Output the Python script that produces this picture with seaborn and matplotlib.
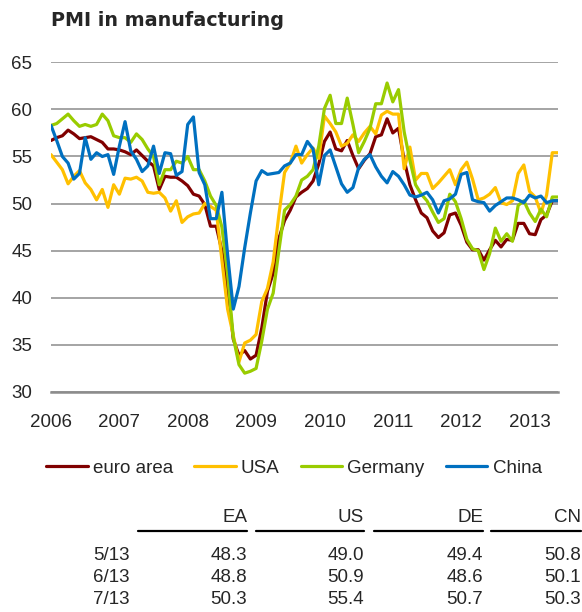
import numpy as np
import pandas as pd
import matplotlib.pyplot as plt
import seaborn as sns
from matplotlib.lines import Line2D

# monthly PMI readings, first point = 2006
euro_area = [56.7, 57.0, 57.2, 57.8, 57.4, 56.9, 57.0, 57.1, 56.8, 56.5,
             55.8, 55.8, 55.7, 55.5, 55.2, 55.7, 55.1, 54.5, 54.0, 51.5,
             52.9, 52.8, 52.8, 52.4, 51.9, 51.0, 50.8, 49.9, 47.6, 47.6,
             45.0, 41.1, 35.6, 33.9, 34.4, 33.5, 33.9, 36.8, 40.7, 42.6,
             46.3, 48.2, 49.3, 50.7, 51.2, 51.6, 52.4, 54.2, 56.6, 57.6,
             55.8, 55.6, 56.7, 55.1, 53.7, 54.6, 55.3, 57.1, 57.3, 59.0,
             57.5, 58.0, 54.6, 52.0, 50.4, 49.0, 48.5, 47.1, 46.4, 46.9,
             48.8, 49.0, 47.7, 45.9, 45.1, 45.1, 44.0, 45.1, 46.1, 45.4,
             46.2, 46.1, 47.9, 47.9, 46.8, 46.7, 48.3, 48.8, 50.3, 50.3]
usa = [55.2, 54.4, 53.6, 52.1, 52.9, 53.5, 52.2, 51.5, 50.4, 51.5,
       49.6, 52.0, 51.0, 52.7, 52.6, 52.8, 52.4, 51.2, 51.1, 51.2,
       50.6, 49.2, 50.3, 48.0, 48.6, 48.9, 49.0, 50.0, 49.7, 49.3,
       44.0, 38.8, 36.0, 33.2, 35.2, 35.5, 36.1, 39.6, 41.0, 43.8,
       48.8, 53.3, 54.3, 56.1, 54.3, 55.2, 55.9, 54.8, 59.3, 58.5,
       57.6, 56.1, 56.4, 57.3, 56.6, 57.5, 58.2, 57.4, 59.4, 59.8,
       59.5, 59.5, 53.7, 56.0, 52.5, 53.2, 53.2, 51.6, 52.2, 52.9,
       53.6, 52.0, 53.6, 54.4, 52.6, 50.4, 50.6, 51.0, 51.7, 50.1,
       49.9, 50.3, 53.2, 54.1, 51.3, 50.7, 49.0, 50.9, 55.4, 55.4]
germany = [58.3, 58.5, 59.0, 59.5, 58.8, 58.2, 58.4, 58.2, 58.4, 59.5,
           58.8, 57.2, 57.0, 57.0, 56.5, 57.4, 56.8, 55.8, 55.0, 52.0,
           53.6, 53.6, 54.5, 54.3, 55.0, 53.6, 53.6, 52.4, 50.8, 49.8,
           47.5, 42.5, 35.8, 32.9, 32.0, 32.2, 32.5, 35.4, 38.8, 40.5,
           45.0, 49.3, 49.9, 50.8, 52.5, 52.9, 53.6, 56.1, 60.1, 61.5,
           58.5, 58.5, 61.2, 58.4, 55.4, 56.6, 58.0, 60.6, 60.6, 62.8,
           60.8, 62.1, 57.6, 54.6, 52.0, 51.0, 50.3, 49.1, 48.0, 48.4,
           51.0, 50.2, 48.4, 46.2, 45.2, 45.0, 43.0, 44.7, 47.4, 46.0,
           46.8, 46.0, 49.8, 50.3, 49.0, 48.1, 49.4, 48.6, 50.7, 50.7]
china = [58.3, 56.7, 55.0, 54.3, 52.6, 53.2, 57.0, 54.7, 55.4, 55.0,
         55.2, 53.1, 56.1, 58.7, 55.6, 54.7, 53.4, 54.0, 56.1, 53.2,
         55.4, 55.3, 53.0, 53.4, 58.4, 59.2, 53.3, 52.0, 48.4, 48.4,
         51.2, 44.6, 38.8, 41.2, 45.3, 49.0, 52.4, 53.5, 53.1, 53.2,
         53.3, 54.0, 54.3, 55.2, 55.2, 56.6, 55.8, 52.0, 55.1, 55.7,
         53.9, 52.1, 51.2, 51.7, 53.8, 54.7, 55.2, 53.9, 52.9, 52.2,
         53.4, 52.9, 52.0, 50.9, 50.7, 50.9, 51.2, 50.4, 49.0, 50.3,
         50.5, 51.0, 53.1, 53.3, 50.4, 50.2, 50.1, 49.2, 49.8, 50.2,
         50.6, 50.6, 50.4, 50.1, 50.9, 50.6, 50.8, 50.1, 50.3, 50.3]

series_names = ['euro area', 'USA', 'Germany', 'China']
colors = ['#800000', '#FFC000', '#99CC00', '#0070C0']
year_labels = ['2006', '2007', '2008', '2009', '2010', '2011', '2012', '2013']

table_rows = ['5/13', '6/13', '7/13']
table_cols = ['EA', 'US', 'DE', 'CN']
table_vals = [[48.3, 49.0, 49.4, 50.8],
              [48.8, 50.9, 48.6, 50.1],
              [50.3, 55.4, 50.7, 50.3]]

months = np.arange(len(euro_area))
df = pd.concat([
    pd.DataFrame({'month': months, 'pmi': vals, 'series': name})
    for name, vals in zip(series_names, [euro_area, usa, germany, china])
])

sns.set_style('white')
plt.rcParams['font.family'] = ['Liberation Sans', 'DejaVu Sans']
FS = 13.5

W, H = 582, 612
fig = plt.figure(figsize=(W / 100, H / 100), dpi=100)
ax = fig.add_axes([51 / W, 1 - 392 / H, (558 - 51) / W, (392 - 62.3) / H])

sns.lineplot(data=df, x='month', y='pmi', hue='series', palette=colors,
             hue_order=series_names, linewidth=2.3, ax=ax, legend=False)

ax.set_xlim(0, 89)
ax.set_ylim(30, 65)
ax.set_yticks(range(30, 70, 5))
ax.set_xticks(range(0, 96, 12))
ax.set_xticklabels(year_labels)
ax.set_xlabel('')
ax.set_ylabel('')
ax.grid(axis='y', color='#8c8c8c', linewidth=1.1)
ax.set_axisbelow(True)
for side in ['left', 'right', 'top']:
    ax.spines[side].set_visible(False)
ax.spines['bottom'].set_color('#8c8c8c')
ax.spines['bottom'].set_linewidth(1.8)
ax.tick_params(axis='y', length=0, pad=13.5, labelsize=FS)
ax.tick_params(axis='x', length=5, width=1.8, color='#8c8c8c', pad=11, labelsize=FS)

fig.text(51 / W, 1 - 26 / H, 'PMI in manufacturing', fontsize=13.8,
         fontweight='bold', family='DejaVu Sans', va='baseline', ha='left')

handles = [Line2D([], [], color=c, linewidth=2.3) for c in colors]
fig.legend(handles, series_names, loc='center', bbox_to_anchor=(294 / W, 1 - 468 / H),
           ncol=4, frameon=False, fontsize=FS, handlelength=2.2,
           handletextpad=0.27, columnspacing=1.15)

# small table of latest readings
col_right = [247, 364, 483, 581]
col_left = [138, 256, 374, 491]
for name, x0, x1 in zip(table_cols, col_left, col_right):
    fig.text(x1 / W, 1 - 518 / H, name, fontsize=FS, ha='right', va='center')
    fig.add_artist(Line2D([x0 / W, x1 / W], [1 - 531 / H, 1 - 531 / H],
                          color='black', linewidth=1.6))
row_y = [555, 578, 600]
for label, vals, y in zip(table_rows, table_vals, row_y):
    fig.text(130 / W, 1 - y / H, label, fontsize=FS, ha='right', va='center')
    for v, x1 in zip(vals, col_right):
        fig.text(x1 / W, 1 - y / H, f'{v:.1f}', fontsize=FS, ha='right', va='center')

fig.savefig('out.png', dpi=100)
